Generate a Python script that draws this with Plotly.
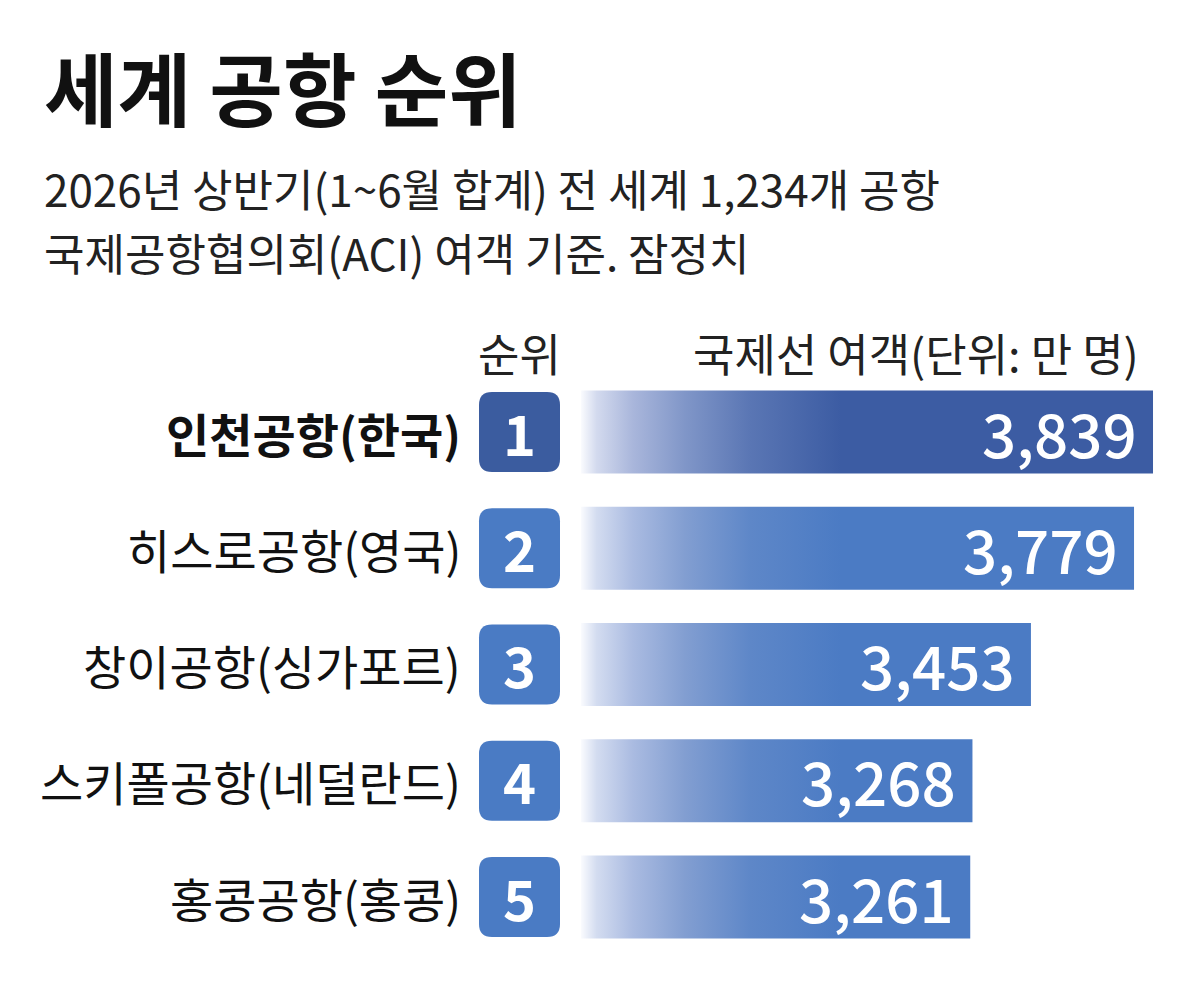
import plotly.graph_objects as go

# ---- data ----
airports = ["인천공항(한국)", "히스로공항(영국)", "창이공항(싱가포르)", "스키폴공항(네덜란드)", "홍콩공항(홍콩)"]
ranks = ["1", "2", "3", "4", "5"]
passengers = [3839, 3779, 3453, 3268, 3261]  # 만 명

title_text = "세계 공항 순위"
subtitle_lines = ["2026년 상반기(1~6월 합계) 전 세계 1,234개 공항",
                  "국제공항협의회(ACI) 여객 기준. 잠정치"]
header_rank = "순위"
header_value = "국제선 여객(단위: 만 명)"

# ---- layout constants ----
W, H = 1192, 982
OFF = 8                      # browser default body margin
FW, FH = W - OFF, H - OFF    # figure size
FONT = "Noto Sans CJK KR"
BASE = 2030                  # value where bars start (truncated axis)
BAR_LEFT_PX = 581            # page pixel of bar start
PX_PER_UNIT = 0.3162
ROW0_PX = 432                # page pixel of first row centre
ROW_STEP_PX = 116.25
BAR_H = 0.715                # in row units

x_min = BASE - (BAR_LEFT_PX - OFF) / PX_PER_UNIT
x_max = BASE + (W - BAR_LEFT_PX) / PX_PER_UNIT
y_top = -(ROW0_PX - OFF) / ROW_STEP_PX
y_bot = y_top + FH / ROW_STEP_PX


def px_x(p):
    return (p - OFF) / FW


def px_y(p):
    return 1 - (p - OFF) / FH


scale_first = [[0, "#fafbfe"], [0.06, "#d3daee"], [0.2, "#a9b6db"], [0.4, "#8096c8"],
               [0.65, "#5a76b4"], [1, "#3c5ca3"]]
scale_other = [[0, "#fafbfe"], [0.06, "#d3dcf0"], [0.2, "#aabbe1"], [0.4, "#829ed1"],
               [0.65, "#5e87c8"], [1, "#4b7bc4"]]

fig = go.Figure()

for i, v in enumerate(passengers):
    y0, y1 = i - BAR_H / 2, i + BAR_H / 2
    fig.add_trace(go.Scatter(
        x=[BASE, v, v, BASE, BASE],
        y=[y0, y0, y1, y1, y0],
        mode="lines",
        line=dict(width=0),
        fill="toself",
        fillgradient=dict(type="horizontal",
                          colorscale=scale_first if i == 0 else scale_other,
                          start=BASE, stop=BASE + 260 / PX_PER_UNIT),
        hoverinfo="skip",
        showlegend=False,
    ))
    # value label
    fig.add_annotation(x=v, y=i, xref="x", yref="y", text=f"{v:,}",
                       xanchor="right", yanchor="middle", xshift=-14, yshift=1,
                       showarrow=False,
                       font=dict(family=FONT, size=60, color="white", weight=500))

# badges (rounded squares) + rank numbers + airport names
BX0, BX1 = 479, 560
R_PX = 13
BADGE_H_PX = 80
for i, (name, rk) in enumerate(zip(airports, ranks)):
    yc = i
    hh = BADGE_H_PX / 2 / ROW_STEP_PX
    ry = R_PX / ROW_STEP_PX
    x0, x1 = px_x(BX0), px_x(BX1)
    rx = R_PX / FW
    ya, yb = yc - hh, yc + hh
    path = (f"M {x0+rx},{ya} L {x1-rx},{ya} Q {x1},{ya} {x1},{ya+ry} "
            f"L {x1},{yb-ry} Q {x1},{yb} {x1-rx},{yb} "
            f"L {x0+rx},{yb} Q {x0},{yb} {x0},{yb-ry} "
            f"L {x0},{ya+ry} Q {x0},{ya} {x0+rx},{ya} Z")
    fig.add_shape(type="path", path=path, xref="paper", yref="y",
                  fillcolor="#3b5c9f" if i == 0 else "#4a7bc4",
                  line=dict(width=0), layer="above")
    fig.add_annotation(x=px_x((BX0 + BX1) / 2), y=yc, xref="paper", yref="y",
                       text=rk, showarrow=False, xanchor="center", yanchor="middle",
                       yshift=1,
                       font=dict(family=FONT, size=56, color="white", weight="bold"))
    fig.add_annotation(x=px_x(463), y=yc, xref="paper", yref="y",
                       text=name, showarrow=False, xanchor="right", yanchor="middle",
                       font=dict(family=FONT, size=47, color="#111111",
                                 weight="bold" if i == 0 else "normal"))

# title & subtitle
fig.add_annotation(x=px_x(42), y=px_y(85), xref="paper", yref="paper",
                   text=title_text, showarrow=False, xanchor="left", yanchor="middle",
                   font=dict(family=FONT, size=80, color="#111111", weight="bold"))
for j, line in enumerate(subtitle_lines):
    fig.add_annotation(x=px_x(42), y=px_y(188 + 64 * j), xref="paper", yref="paper",
                       text=line, showarrow=False, xanchor="left", yanchor="middle",
                       font=dict(family=FONT, size=44, color="#222222"))

# column headers
fig.add_annotation(x=px_x((BX0 + BX1) / 2), y=px_y(352), xref="paper", yref="paper",
                   text=header_rank, showarrow=False, xanchor="center", yanchor="middle",
                   font=dict(family=FONT, size=45, color="#222222"))
fig.add_annotation(x=px_x(1141), y=px_y(352), xref="paper", yref="paper",
                   text=header_value, showarrow=False, xanchor="right", yanchor="middle",
                   font=dict(family=FONT, size=45, color="#222222"))

fig.update_layout(
    width=FW, height=FH,
    margin=dict(l=0, r=0, t=0, b=0),
    paper_bgcolor="white", plot_bgcolor="white",
    xaxis=dict(range=[x_min, x_max], visible=False, fixedrange=True),
    yaxis=dict(range=[y_bot, y_top], visible=False, fixedrange=True),
    showlegend=False,
)

fig.write_html("out.html")
